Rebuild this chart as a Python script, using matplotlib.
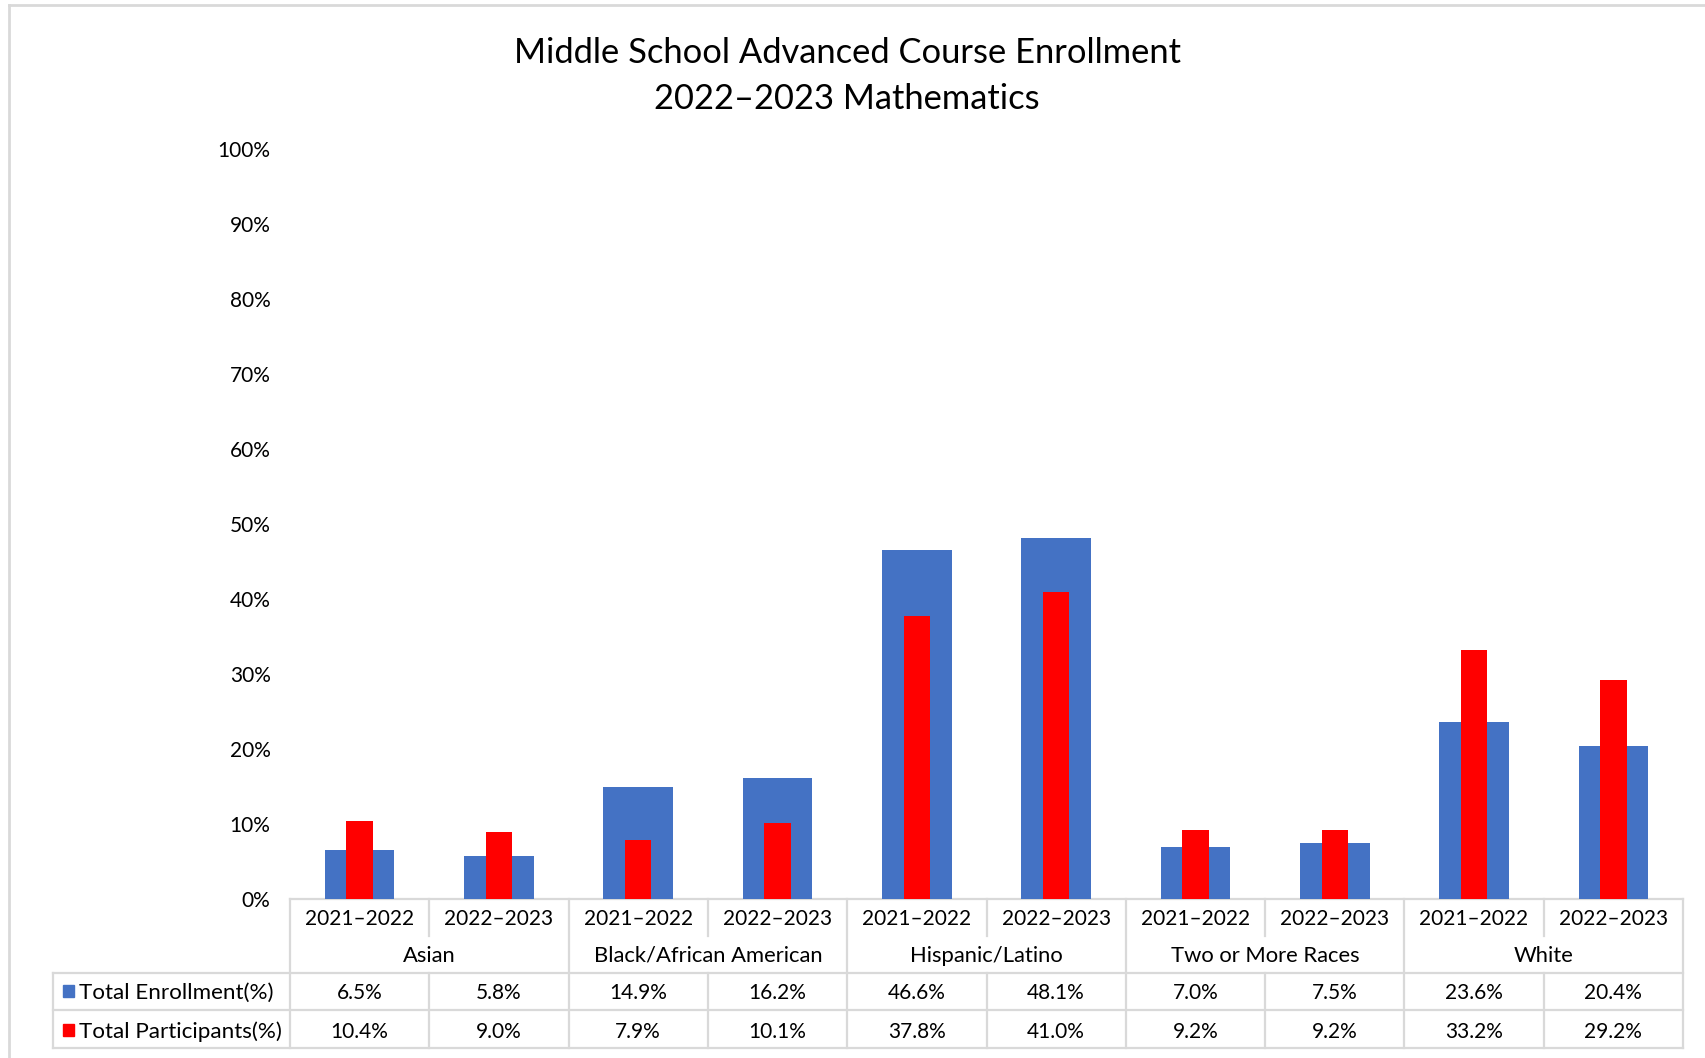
import matplotlib
matplotlib.use('Agg')
import matplotlib.pyplot as plt
import matplotlib.transforms as mtransforms
from matplotlib.lines import Line2D
from matplotlib.patches import Rectangle

plt.rcParams['font.family'] = ['Lato', 'DejaVu Sans']

groups = ['Asian', 'Black/African American', 'Hispanic/Latino', 'Two or More Races', 'White']
years = ['2021–2022', '2022–2023']
enrollment = [6.5, 5.8, 14.9, 16.2, 46.6, 48.1, 7.0, 7.5, 23.6, 20.4]
participants = [10.4, 9.0, 7.9, 10.1, 37.8, 41.0, 9.2, 9.2, 33.2, 29.2]
series_names = ['Total Enrollment(%)', 'Total Participants(%)']
yticks = [0, 10, 20, 30, 40, 50, 60, 70, 80, 90, 100]

blue = '#4472C4'
red = '#FF0000'
grid_c = '#D9D9D9'

W, H = 1705, 1058
fig = plt.figure(figsize=(W / 100, H / 100), dpi=100)

# plot area in pixels
left, right, top, bottom = 290, 1683, 149, 899
ax = fig.add_axes([left / W, 1 - bottom / H, (right - left) / W, (bottom - top) / H])

x = list(range(len(enrollment)))
ax.bar(x, enrollment, width=0.5, color=blue, zorder=2)
ax.bar(x, participants, width=0.19, color=red, zorder=3)

ax.set_xlim(-0.5, len(x) - 0.5)
ax.set_ylim(0, 100)
ax.set_yticks(yticks)
ax.set_yticklabels([f'{t}%' for t in yticks], fontsize=15)
ax.tick_params(axis='y', length=0, pad=14)
ax.set_xticks([])
for s in ax.spines.values():
    s.set_visible(False)

# table below the axis
trans = mtransforms.blended_transform_factory(ax.transData, ax.transAxes)
col_px = (right - left) / len(x)


def fy(py):
    return (bottom - py) / (bottom - top)


label_left = -0.5 - (left - 53) / col_px
lw = 1.6


def hline(x0, x1, py):
    ax.add_line(Line2D([x0, x1], [fy(py), fy(py)], transform=trans, color=grid_c,
                       lw=lw, clip_on=False, zorder=1))


def vline(xx, py0, py1):
    ax.add_line(Line2D([xx, xx], [fy(py0), fy(py1)], transform=trans, color=grid_c,
                       lw=lw, clip_on=False, zorder=1))


n = len(x)
hline(-0.5, n - 0.5, 899)
hline(label_left, n - 0.5, 973)
hline(label_left, n - 0.5, 1010)
hline(label_left, n - 0.5, 1048)
vline(label_left, 973, 1048)
for i in range(n + 1):
    xx = i - 0.5
    if i % 2 == 0:
        vline(xx, 899, 1048)
    else:
        vline(xx, 899, 936)
        vline(xx, 973, 1048)

fs = 15
for i in x:
    ax.text(i, fy(919), years[i % 2], transform=trans, ha='center', va='center', fontsize=fs)
    ax.text(i, fy(993), f'{enrollment[i]:.1f}%', transform=trans, ha='center', va='center', fontsize=fs)
    ax.text(i, fy(1032), f'{participants[i]:.1f}%', transform=trans, ha='center', va='center', fontsize=fs)
for g, name in enumerate(groups):
    ax.text(2 * g + 0.5, fy(956), name, transform=trans, ha='center', va='center', fontsize=15.8)

# row labels with legend keys
for py, name, c in [(991, series_names[0], blue), (1030, series_names[1], red)]:
    fig.patches.append(Rectangle((63 / W, 1 - (py + 6) / H), 11 / W, 12 / H,
                                 transform=fig.transFigure, color=c))
    fig.text(79 / W, 1 - (py + 2) / H, name, ha='left', va='center', fontsize=16.1)

# title
fig.text(847 / W, 1 - 53 / H, 'Middle School Advanced Course Enrollment',
         ha='center', va='center', fontsize=24.8)
fig.text(847 / W, 1 - 99 / H, '2022–2023 Mathematics',
         ha='center', va='center', fontsize=24.8)

# chart border
fig.add_artist(Line2D([9 / W, 9 / W], [0, 1 - 5 / H], transform=fig.transFigure, color=grid_c, lw=2))
fig.add_artist(Line2D([9 / W, 1], [1 - 5 / H, 1 - 5 / H], transform=fig.transFigure, color=grid_c, lw=2))

fig.savefig('out.png', dpi=100)
